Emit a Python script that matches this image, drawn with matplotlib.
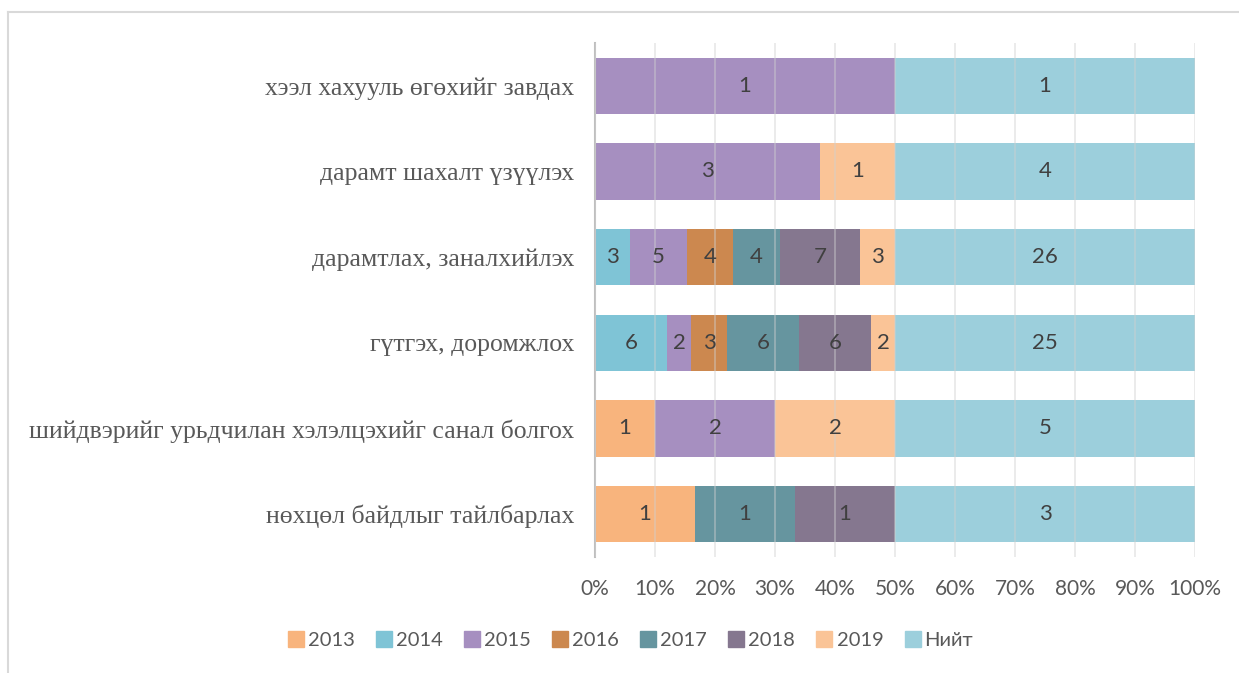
import numpy as np
import matplotlib.pyplot as plt
from matplotlib.lines import Line2D

categories = [
    "хээл хахууль өгөхийг завдах",
    "дарамт шахалт үзүүлэх",
    "дарамтлах, заналхийлэх",
    "гүтгэх, доромжлох",
    "шийдвэрийг урьдчилан хэлэлцэхийг санал болгох",
    "нөхцөл байдлыг тайлбарлах",
]
series_names = ["2013", "2014", "2015", "2016", "2017", "2018", "2019", "Нийт"]
v2013 = [0, 0, 0, 0, 1, 1]
v2014 = [0, 0, 3, 6, 0, 0]
v2015 = [1, 3, 5, 2, 2, 0]
v2016 = [0, 0, 4, 3, 0, 0]
v2017 = [0, 0, 4, 6, 0, 1]
v2018 = [0, 0, 7, 6, 0, 1]
v2019 = [0, 1, 3, 2, 2, 0]
total = [1, 4, 26, 25, 5, 3]
colors = ["#F8B47D", "#7FC4D6", "#A68FC0", "#CC884F", "#66959F", "#85778F", "#FAC497", "#9CCFDC"]

data = np.array([v2013, v2014, v2015, v2016, v2017, v2018, v2019, total], dtype=float)
shares = data / data.sum(axis=0) * 100

fig = plt.figure(figsize=(12.39, 6.73), dpi=100)
ax = fig.add_axes([0.4802, 0.1724, 0.4843, 0.7637])

y = np.arange(len(categories))
left = np.zeros(len(categories))
handles = []
for i, name in enumerate(series_names):
    ax.barh(y, shares[i], left=left, height=0.66, color=colors[i], zorder=2, label=name)
    for j in range(len(categories)):
        if data[i, j] > 0:
            ax.text(left[j] + shares[i, j] / 2, y[j], f"{int(data[i, j])}", ha="center", va="center",
                    fontsize=16, color="#404040", family="Lato", zorder=4)
    left += shares[i]
    handles.append(Line2D([], [], marker="s", linestyle="none", markersize=11,
                          markerfacecolor=colors[i], markeredgecolor=colors[i]))

ax.set_ylim(len(categories) - 0.5, -0.5)
ax.set_xlim(0, 100)
ax.set_xticks(np.arange(0, 101, 10))
ax.set_xticklabels([f"{t}%" for t in range(0, 101, 10)], family="Lato", fontsize=15, color="#595959")
ax.set_yticks(y)
ax.set_yticklabels(categories, family="Liberation Serif", fontsize=18.5, color="#595959")
ax.tick_params(axis="both", length=0)
ax.tick_params(axis="x", pad=16)
ax.tick_params(axis="y", pad=15)
ax.xaxis.grid(True, color="#d0d0d0", linewidth=1.2, alpha=0.5, zorder=3)
ax.set_axisbelow(False)
for s in ["top", "right", "bottom"]:
    ax.spines[s].set_visible(False)
ax.spines["left"].set_color("#bfbfbf")
ax.spines["left"].set_linewidth(1.5)

fig.legend(handles, series_names, loc="center", bbox_to_anchor=(0.508, 0.048), ncol=8,
           frameon=False, prop={"family": "Lato", "size": 14.5}, labelcolor="#595959",
           handletextpad=0.1, columnspacing=0.95, handlelength=1.0)

# outer chart frame
fig.add_artist(Line2D([8 / 1239, 1], [1 - 12 / 673, 1 - 12 / 673], color="#d9d9d9", linewidth=1.5))
fig.add_artist(Line2D([8 / 1239, 8 / 1239], [0, 1 - 12 / 673], color="#d9d9d9", linewidth=1.5))

fig.savefig("out.png", dpi=100, facecolor="white")
